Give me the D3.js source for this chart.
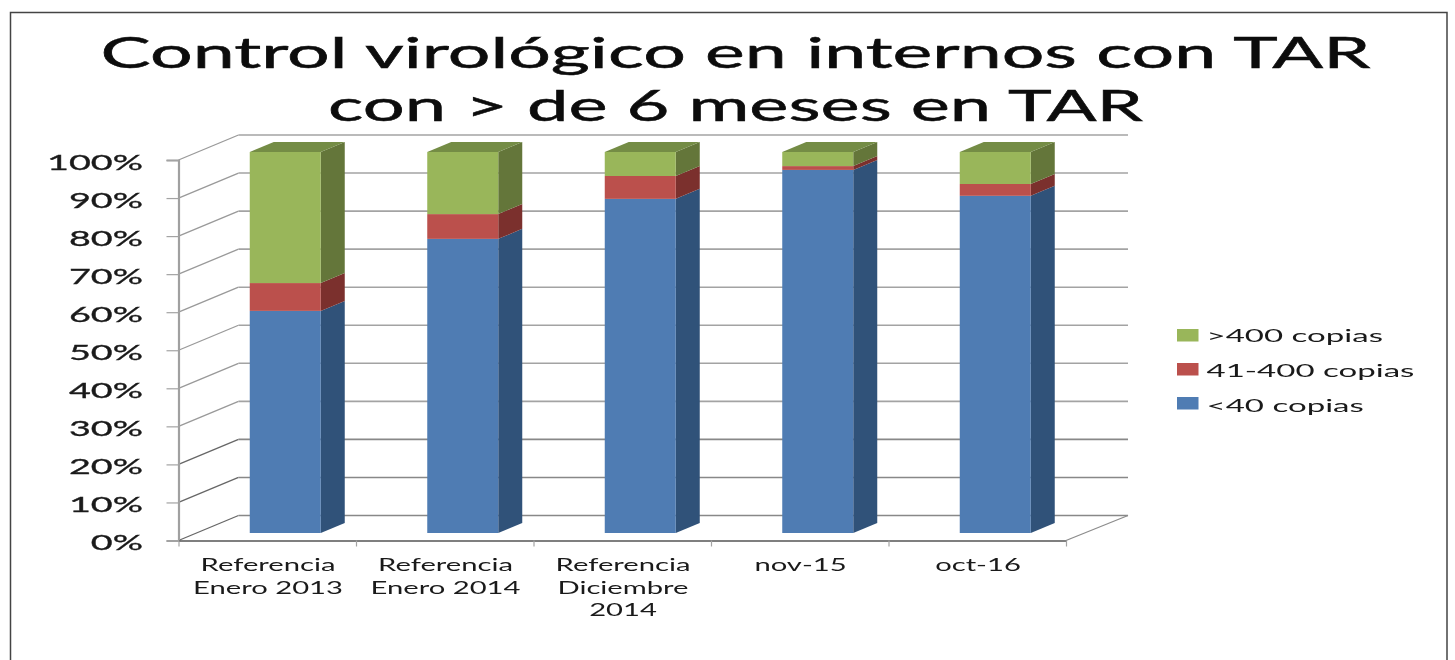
<!DOCTYPE html>
<html><head><meta charset="utf-8">
<script src="https://cdn.jsdelivr.net/npm/d3@7/dist/d3.min.js"></script>
<style>html,body{margin:0;padding:0;background:#fff}svg{display:block;filter:blur(0.45px)}text{font-family:Lato,"DejaVu Sans",sans-serif;fill:#1a1a1a}</style>
</head><body><svg id="c" width="1455" height="660"></svg>
<script>
const categories=[["Referencia","Enero 2013"],["Referencia","Enero 2014"],["Referencia","Diciembre","2014"],["nov-15"],["oct-16"]];
const lessThan40=[58.3,77.2,87.7,95.3,88.5];
const from41to400=[7.3,6.5,6,1,3.1];
const over400=[34.4,16.3,6.3,3.7,8.4];
const seriesNames=["<40 copias","41-400 copias",">400 copias"];
const seriesColors=["#4f7cb3","#bb504c","#99b65a"];
const sideColors=["#305279","#7b302d","#64763a"];
const topColors=["#3d6591","#8c3a37","#748c45"];
const yTicks=d3.range(0,101,10);
const titleLines=["Control virológico en internos con TAR","con > de 6 meses en TAR"];

const svg=d3.select("#c");
svg.append("path").attr("d","M10.5,670V12.5H1447V670").attr("fill","none").attr("stroke","#444").attr("stroke-width",1.5);
const g=svg.append("g");

const left=178.5,right=1066,floorY=540.5,topY=160;
const x=d3.scaleBand().domain(d3.range(categories.length)).range([left,right]).paddingInner(0.6).paddingOuter(0.3);
const xEdge=d3.scaleLinear().domain([0,categories.length]).range([left,right]);
const yFloor=d3.scaleLinear().domain([0,100]).range([floorY,topY]);
const yBar=d3.scaleLinear().domain([0,100]).range([533,152]);
const wall={dx:60,dy:-25};
const bar={dx:24,dy:-10,offset:18};
const grid="#a3a3a3";

// horizontal stretch that makes a sample string reach a given pixel width
function stretch(sample,size,width){
  const t=svg.append("text").attr("font-size",size).text(sample);
  const n=t.node().getComputedTextLength();t.remove();
  return width/n;
}
const yStretch=stretch("100%",21,96), catStretch=stretch("Enero 2013",17,150), legStretch=stretch("41-400 copias",17,208);

// walls
yTicks.forEach(t=>{
  const y=yFloor(t);
  g.append("line").attr("x1",left).attr("y1",y).attr("x2",left+wall.dx).attr("y2",y+wall.dy).attr("stroke",t<30?"#666":"#999").attr("stroke-width",1.3);
  g.append("line").attr("x1",left+wall.dx).attr("y1",y+wall.dy).attr("x2",right+62).attr("y2",y+wall.dy).attr("stroke",t<30?"#888":grid).attr("stroke-width",1.6);
});
// y axis
const yAxis=g.append("g").attr("transform",`translate(${left},0)`)
  .call(d3.axisLeft(yFloor).tickValues(yTicks).tickSize(12).tickFormat(d=>d+"%"));
yAxis.select(".domain").attr("stroke","#a0a0a0").attr("stroke-width",2.2);
yAxis.selectAll(".tick line").attr("stroke",grid).attr("stroke-width",1.2);
yAxis.selectAll(".tick text").attr("x",null).attr("dy",null).attr("text-anchor","end")
  .attr("font-size",21).attr("transform",`translate(-35.5,9) scale(${yStretch},1)`).attr("stroke","#1a1a1a").attr("stroke-width",0.3);
// x axis
const xAxis=g.append("g").attr("transform",`translate(0,${floorY})`)
  .call(d3.axisBottom(xEdge).tickValues(d3.range(categories.length+1)).tickSize(6).tickSizeOuter(0).tickFormat(""));
xAxis.select(".domain").attr("stroke","#555").attr("stroke-width",1.6);
xAxis.selectAll(".tick line").attr("stroke",grid).attr("stroke-width",1.2);
g.append("line").attr("x1",right).attr("y1",floorY).attr("x2",right+wall.dx+2).attr("y2",floorY+wall.dy).attr("stroke","#8c8c8c").attr("stroke-width",1.3);

// bars
const series=[lessThan40,from41to400,over400];
categories.forEach((c,i)=>{
  let acc=0;
  const l=x(i)+bar.offset,w=x.bandwidth(),r=l+w;
  series.forEach((s,k)=>{
    const y0=yBar(acc),y1=yBar(acc+s[i]);acc+=s[i];
    g.append("path").attr("fill",sideColors[k]).attr("d",`M${r},${y0}L${r+bar.dx},${y0+bar.dy}L${r+bar.dx},${y1+bar.dy}L${r},${y1}Z`);
    g.append("rect").attr("x",l).attr("y",y1).attr("width",w).attr("height",y0-y1).attr("fill",seriesColors[k]);
    if(k==2) g.append("path").attr("fill",topColors[k]).attr("d",`M${l},${y1}L${l+bar.dx},${y1+bar.dy}L${r+bar.dx},${y1+bar.dy}L${r},${y1}Z`);
  });
  c.forEach((ln,j)=>{
    g.append("text").attr("transform",`translate(${x(i)+w/2+0.75},${571+j*22.5}) scale(${catStretch},1)`).attr("text-anchor","middle").attr("font-size",17).text(ln);
  });
});

// legend
[2,1,0].forEach((k,j)=>{
  const ly=329+j*34;
  g.append("rect").attr("x",1177).attr("y",ly).attr("width",21.5).attr("height",12.5).attr("fill",seriesColors[k]);
  g.append("text").attr("transform",`translate(1206.5,${341.7+j*35}) scale(${legStretch},1)`).attr("font-size",17).text(seriesNames[k]);
});

// title
titleLines.forEach((t,j)=>{
  svg.append("text").attr("x",735.5).attr("y",[67.5,121][j]).attr("text-anchor","middle").attr("font-size",43).attr("textLength",[1270,815][j]).attr("lengthAdjust","spacingAndGlyphs").style("fill","#0c0c0c").attr("stroke","#0c0c0c").attr("stroke-width",0.5).text(t);
});
</script></body></html>
